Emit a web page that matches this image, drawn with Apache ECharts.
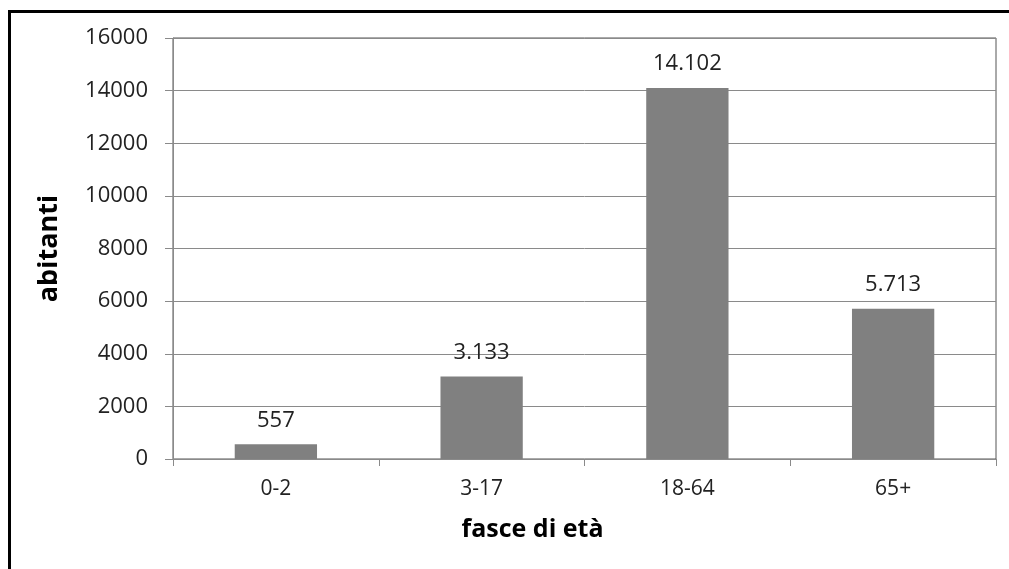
<!DOCTYPE html>
<html>
<head>
<meta charset="utf-8">
<script src="https://cdn.jsdelivr.net/npm/echarts@6/dist/echarts.min.js"></script>
<style>
  html, body { margin: 0; padding: 0; background: #fff; }
  #chart { width: 1009px; height: 569px; }
</style>
</head>
<body>
<div id="chart"></div>
<script>
// Residents by age band
const categories = ['0-2', '3-17', '18-64', '65+'];
const residents = [557, 3133, 14102, 5713];
const yTicks = { min: 0, max: 16000, interval: 2000 };

// Italian-style thousands separator (14.102)
function itNumber(v) {
  return String(v).replace(/\B(?=(\d{3})+(?!\d))/g, '.');
}

const FONT = '"Open Sans", "DejaVu Sans", sans-serif';
const chart = echarts.init(document.getElementById('chart'), null, { renderer: 'canvas' });

chart.setOption({
  animation: false,
  backgroundColor: '#ffffff',
  graphic: [{
    type: 'rect',
    shape: { x: 9.5, y: 11.5, width: 1010, height: 600 },
    style: { fill: 'none', stroke: '#000', lineWidth: 3 },
    silent: true
  }],
  grid: {
    left: 173, top: 38, right: 13, bottom: 110,
    show: true, borderColor: '#555', borderWidth: 1, backgroundColor: '#fff'
  },
  xAxis: {
    type: 'category',
    data: categories,
    name: 'fasce di età',
    nameLocation: 'middle',
    nameGap: 58,
    nameTextStyle: {
      fontFamily: FONT, fontSize: 25, fontWeight: 'bold', color: '#000',
      padding: [0, 104, 0, 0]
    },
    axisLine: { lineStyle: { color: '#8a8a8a', width: 1 } },
    axisTick: { show: true, length: 7, lineStyle: { color: '#8a8a8a' } },
    axisLabel: { fontFamily: FONT, fontSize: 21, color: '#222', margin: 20 },
    splitLine: { show: false }
  },
  yAxis: {
    type: 'value',
    min: yTicks.min, max: yTicks.max, interval: yTicks.interval,
    name: 'abitanti',
    nameLocation: 'middle',
    nameGap: 110,
    nameRotate: 90,
    nameTextStyle: {
      fontFamily: FONT, fontSize: 27, fontWeight: 'bold', color: '#000'
    },
    axisLine: { show: true, lineStyle: { color: '#8a8a8a', width: 1 } },
    axisTick: { show: true, length: 8, lineStyle: { color: '#8a8a8a' } },
    axisLabel: {
      fontFamily: FONT, fontSize: 22, color: '#222', margin: 25,
      formatter: v => String(v)
    },
    splitLine: { show: true, lineStyle: { color: '#8a8a8a', width: 1 } }
  },
  series: [{
    type: 'bar',
    data: residents,
    barWidth: '40%',
    itemStyle: { color: '#808080' },
    label: {
      show: true,
      position: 'top',
      distance: 13,
      fontFamily: FONT,
      fontSize: 22,
      color: '#222',
      formatter: p => itNumber(p.value)
    }
  }]
});
</script>
</body>
</html>
